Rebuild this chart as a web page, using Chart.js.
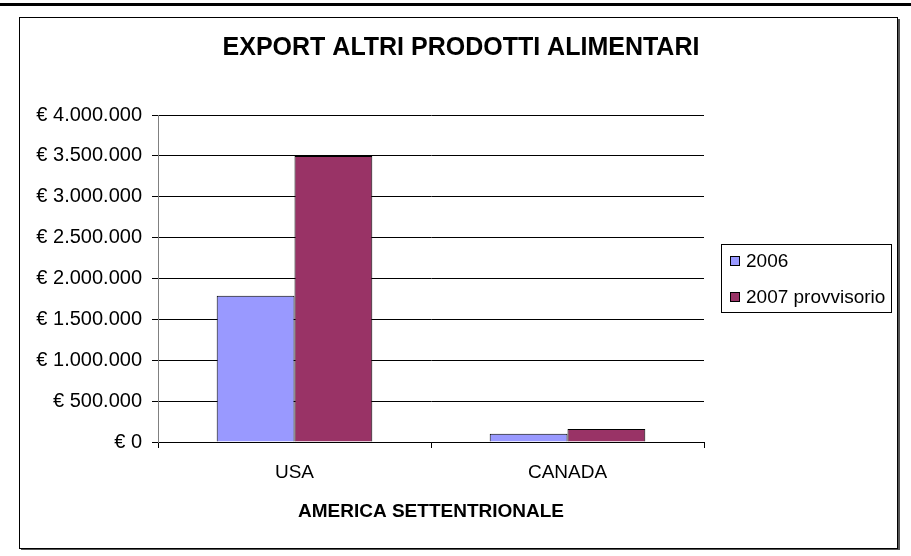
<!DOCTYPE html>
<html>
<head>
<meta charset="utf-8">
<script src="https://cdn.jsdelivr.net/npm/chart.js@4/dist/chart.umd.min.js"></script>
<style>
  html, body { margin: 0; padding: 0; background: #fff; }
  #wrap { position: absolute; left: 0; top: 0; width: 911px; height: 556px; }
</style>
</head>
<body>
<div id="wrap"><canvas id="c" width="911" height="556"></canvas></div>
<script>
const chartTitle = 'EXPORT ALTRI PRODOTTI ALIMENTARI';
const axisTitle = 'AMERICA SETTENTRIONALE';
const categories = ['USA', 'CANADA'];
const seriesLabels = ['2006', '2007 provvisorio'];
const values2006 = [1790000, 100000];
const values2007 = [3500000, 160000];
const seriesColors = ['#9999FF', '#993366'];
const yMax = 4000000;
const yStep = 500000;

function fmtEuro(v) {
  return '€ ' + String(v).replace(/\B(?=(\d{3})+(?!\d))/g, '.');
}

const FONT = "'Liberation Sans', Arial, sans-serif";

const framePlugin = {
  id: 'frame',
  beforeDraw(chart) {
    const ctx = chart.ctx;
    ctx.save();
    ctx.fillStyle = '#fff';
    ctx.fillRect(0, 0, chart.width, chart.height);
    ctx.fillStyle = '#000';
    ctx.fillRect(0, 3, chart.width, 3);
    ctx.fillStyle = '#555';
    ctx.fillRect(21, 548, 879, 2);
    ctx.fillRect(898, 19, 2, 531);
    ctx.strokeStyle = '#000';
    ctx.lineWidth = 1;
    ctx.strokeRect(19.5, 17.5, 878, 531);
    ctx.restore();
  },
  afterDraw(chart) {
    const ctx = chart.ctx;
    ctx.save();
    const bx = 721.5, by = 244.5, bw = 170, bh = 68;
    ctx.fillStyle = '#fff';
    ctx.fillRect(bx, by, bw, bh);
    ctx.strokeStyle = '#000';
    ctx.lineWidth = 1;
    ctx.strokeRect(bx, by, bw, bh);
    ctx.font = '19px ' + FONT;
    ctx.textBaseline = 'middle';
    ctx.textAlign = 'left';
    const ys = [261, 297];
    chart.data.datasets.forEach((ds, i) => {
      ctx.fillStyle = ds.backgroundColor;
      ctx.fillRect(730.5, ys[i] - 4.5, 9, 9);
      ctx.strokeStyle = '#000';
      ctx.strokeRect(730.5, ys[i] - 4.5, 9, 9);
      ctx.fillStyle = '#000';
      ctx.fillText(ds.label, 746, ys[i] + 1);
    });
    ctx.restore();
  }
};

new Chart(document.getElementById('c'), {
  type: 'bar',
  data: {
    labels: categories,
    datasets: [
      { label: seriesLabels[0], data: values2006, backgroundColor: seriesColors[0], borderColor: '#000', borderWidth: 1 },
      { label: seriesLabels[1], data: values2007, backgroundColor: seriesColors[1], borderColor: '#000', borderWidth: 1 }
    ]
  },
  options: {
    responsive: false,
    animation: false,
    devicePixelRatio: 1,
    layout: { padding: { left: 25, right: 14, top: 0, bottom: 0 } },
    datasets: { bar: { categoryPercentage: 0.57, barPercentage: 1.0 } },
    plugins: {
      legend: { display: false },
      tooltip: { enabled: false },
      title: {
        display: true, text: chartTitle, color: '#000',
        font: { family: FONT, size: 25, weight: 'bold', lineHeight: 1.2 },
        padding: { top: 33, bottom: 52 }
      }
    },
    scales: {
      x: {
        grid: { display: true, drawOnChartArea: false, drawTicks: true, tickLength: 6, color: '#000', offset: true },
        border: { display: true, color: '#000', width: 1 },
        ticks: { color: '#000', font: { family: FONT, size: 19 }, padding: 13 },
        title: {
          display: true, text: axisTitle, color: '#000',
          font: { family: FONT, size: 19, weight: 'bold', lineHeight: 1.2 },
          padding: { top: 0, bottom: 33 }
        },
        afterFit(s) { s.height = 114; }
      },
      y: {
        min: 0, max: yMax,
        grid: { color: '#000', tickLength: 6, drawTicks: true },
        border: { display: true, color: '#808080', width: 1 },
        ticks: { stepSize: yStep, color: '#000', font: { family: FONT, size: 20 }, padding: 10, callback: (v) => fmtEuro(v) },
        afterFit(s) { s.width = 133; }
      },
      y2: {
        position: 'right', display: true,
        grid: { display: false, drawTicks: false },
        border: { display: false },
        ticks: { display: false },
        afterFit(s) { s.width = 193; }
      }
    }
  },
  plugins: [framePlugin]
});
</script>
</body>
</html>
